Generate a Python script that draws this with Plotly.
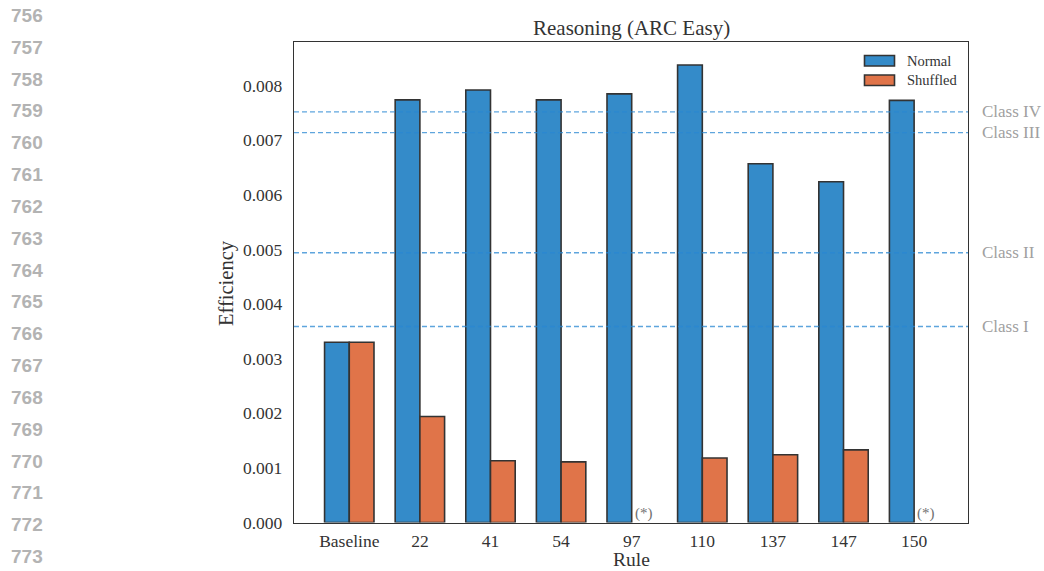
import numpy as np
import plotly.graph_objects as go

# Efficiency per rule, normal vs shuffled training data
rules = ["Baseline", "22", "41", "54", "97", "110", "137", "147", "150"]
normal = [0.00330, 0.00774, 0.00792, 0.00774, 0.00785, 0.00838, 0.00657, 0.00624, 0.00773]
shuffled = [0.00330, 0.00194, 0.00113, 0.00111, None, 0.00118, 0.00124, 0.00133, None]

# Reference levels for the complexity classes
class_names = ["Class I", "Class II", "Class III", "Class IV"]
class_levels = [0.00359, 0.00494, 0.00714, 0.00752]

# Line numbers from the page margin
line_numbers = list(range(756, 774))

BLUE = "#348bc9"
ORANGE = "#e07449"
EDGE = "#333333"
SERIF = "Liberation Serif"
TEXT = "#333333"

idx = np.arange(len(rules))
w = 0.35

fig = go.Figure()
fig.add_trace(go.Bar(x=idx - w / 2, y=normal, width=w, name="Normal",
                     marker=dict(color=BLUE, line=dict(color=EDGE, width=1.6)),
                     showlegend=False))
fig.add_trace(go.Bar(x=idx + w / 2, y=shuffled, width=w, name="Shuffled",
                     marker=dict(color=ORANGE, line=dict(color=EDGE, width=1.6)),
                     showlegend=False))

# Missing shuffled runs are flagged with (*)
for i, v in enumerate(shuffled):
    if v is None:
        fig.add_annotation(x=idx[i] + w / 2, y=0, xref="x", yref="y", text="(*)",
                           showarrow=False, yanchor="bottom", yshift=-1,
                           font=dict(family=SERIF, size=15, color="#707070"))

# Class thresholds as dashed lines with labels to the right of the axes
for name, lvl in zip(class_names, class_levels):
    fig.add_shape(type="line", xref="paper", yref="y", x0=0.2816, x1=0.9272,
                  y0=lvl, y1=lvl, layer="above",
                  line=dict(color="rgba(40,135,210,0.75)", width=1.4, dash="5px,3px"))
    fig.add_annotation(x=0.9387, y=lvl, xref="paper", yref="y", text=name,
                       showarrow=False, xanchor="left", yanchor="middle",
                       font=dict(family=SERIF, size=17, color="#a0a0a0"))

# Legend drawn as patches inside the upper-right corner
legend_items = [("Normal", BLUE, 55.5), ("Shuffled", ORANGE, 75)]
for label, col, top in legend_items:
    fig.add_shape(type="rect", xref="paper", yref="paper",
                  x0=864.5 / 1044, x1=894.5 / 1044,
                  y0=1 - (top + 10.5) / 571, y1=1 - top / 571,
                  fillcolor=col, line=dict(color=EDGE, width=1.6))
    fig.add_annotation(x=905 / 1044, y=1 - (top + 5.5) / 571, xref="paper", yref="paper",
                       text=label, showarrow=False, xanchor="left", yanchor="middle",
                       font=dict(family=SERIF, size=14.5, color=TEXT))

# Page line numbers in the left margin
for k, n in enumerate(line_numbers):
    yc = 15.5 + k * 31.83
    fig.add_annotation(x=9 / 1044, y=1 - yc / 571, xref="paper", yref="paper",
                       text=f"<b>{n}</b>", showarrow=False, xanchor="left", yanchor="middle",
                       font=dict(family="Liberation Sans", size=19, color="#b3b3b3"))

# Title and axis titles
fig.add_annotation(x=631 / 1044, y=1 - 28 / 571, xref="paper", yref="paper",
                   text="Reasoning (ARC Easy)", showarrow=False,
                   xanchor="center", yanchor="middle",
                   font=dict(family=SERIF, size=21, color=TEXT))
fig.add_annotation(x=631 / 1044, y=1 - 559 / 571, xref="paper", yref="paper",
                   text="Rule", showarrow=False, xanchor="center", yanchor="middle",
                   font=dict(family=SERIF, size=19.5, color=TEXT))
fig.add_annotation(x=226 / 1044, y=1 - 283 / 571, xref="paper", yref="paper",
                   text="Efficiency", showarrow=False, textangle=-90,
                   xanchor="center", yanchor="middle",
                   font=dict(family=SERIF, size=20.5, color=TEXT))

fig.update_layout(
    width=1044, height=571,
    margin=dict(l=0, r=0, t=0, b=0, autoexpand=False),
    paper_bgcolor="white", plot_bgcolor="white",
    barmode="overlay",
    xaxis=dict(domain=[0.2816, 0.9272], range=[-0.783, 8.763], automargin=False,
               tickmode="array", tickvals=idx, ticktext=rules,
               showgrid=False, zeroline=False, ticks="",
               showline=True, mirror=True, linecolor=EDGE, linewidth=1.3,
               tickfont=dict(family=SERIF, size=17.5, color=TEXT),
               ticklabelstandoff=2),
    yaxis=dict(domain=[1 - 522.5 / 571, 1 - 42 / 571], range=[0, 0.0088], automargin=False,
               tickmode="array", tickvals=[i / 1000 for i in range(9)],
               ticktext=[f"{i / 1000:.3f}" for i in range(9)],
               showgrid=False, zeroline=False, ticks="",
               showline=True, mirror=True, linecolor=EDGE, linewidth=1.3,
               tickfont=dict(family=SERIF, size=17.5, color=TEXT),
               ticklabelstandoff=7),
)

fig.write_html("out.html")
